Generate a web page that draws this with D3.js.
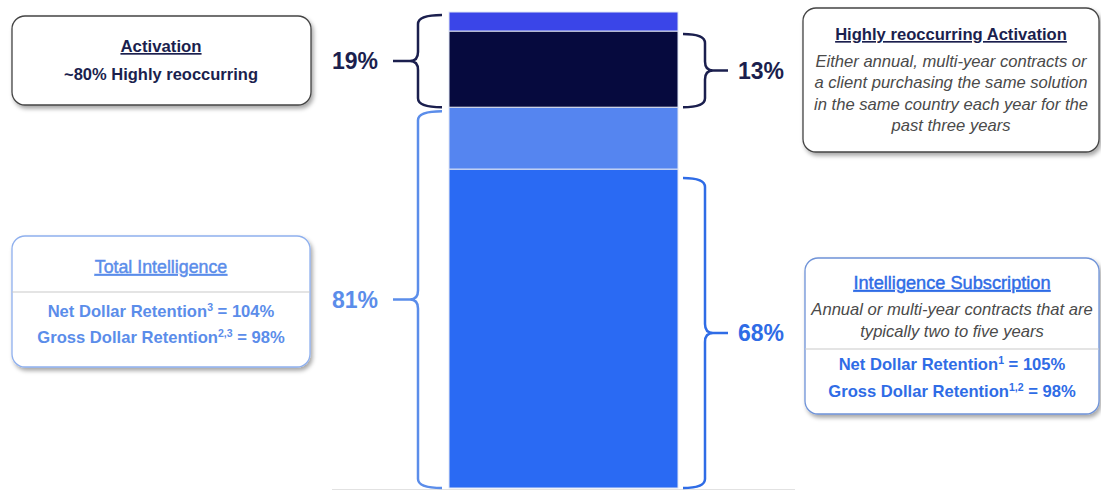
<!DOCTYPE html>
<html>
<head>
<meta charset="utf-8">
<script src="https://cdn.jsdelivr.net/npm/d3@7"></script>
<style>
  body { margin: 0; background: #fff; }
  svg { display: block; font-family: "Liberation Sans", Arial, sans-serif; }
</style>
</head>
<body>
<svg width="1101" height="492"></svg>
<script>
// stacked bar, bottom to top
const segments = ['Intelligence Subscription', 'Other Intelligence', 'Highly reoccurring Activation', 'Other Activation'];
const segmentValues = [67, 13, 16, 4];

// brace labels: which segments each brace spans
const braceLabels = ['19%', '81%', '13%', '68%'];
const braceFrom = [2, 0, 2, 0];
const braceTo = [3, 1, 2, 0];

const segColors = ['#2a6af3', '#5585f0', '#060a3e', '#3a45e8'];
const navy = '#1b1f4e';
const lightBlue = '#5b8dea';
const brightBlue = '#2f6ce6';

const svg = d3.select('svg');

const defs = svg.append('defs');
const f = defs.append('filter').attr('id', 'shadow')
    .attr('x', '-10%').attr('y', '-10%').attr('width', '130%').attr('height', '140%');
f.append('feDropShadow').attr('dx', 2).attr('dy', 3).attr('stdDeviation', 2)
    .attr('flood-color', '#000').attr('flood-opacity', 0.35);

const y = d3.scaleLinear().domain([0, 100]).range([488, 12]);
const x = d3.scaleBand().domain(['mix']).range([449, 678]).padding(0);

// stack the values
let acc = 0;
const stacked = segmentValues.map((v, i) => {
    const d = { name: segments[i], y0: acc, y1: acc + v, i: i };
    acc += v;
    return d;
});

// baseline
svg.append('line')
    .attr('x1', 332).attr('x2', 795)
    .attr('y1', y(0) + 1.5).attr('y2', y(0) + 1.5)
    .attr('stroke', '#e2e2e2').attr('stroke-width', 1);

svg.append('g').selectAll('rect')
    .data(stacked)
    .enter()
    .append('rect')
    .attr('x', x('mix'))
    .attr('width', x.bandwidth())
    .attr('y', d => y(d.y1))
    .attr('height', d => y(d.y0) - y(d.y1))
    .attr('fill', d => segColors[d.i])
    .attr('stroke', '#dfe6f5')
    .attr('stroke-width', 1);

// curly brace path, tip goes toward `dir` (-1 left, 1 right)
function brace(xEnd, xStem, xTip, y0, y1, dir) {
    const ym = (y0 + y1) / 2;
    const r = 9;
    const p = d3.path();
    p.moveTo(xEnd, y0);
    p.quadraticCurveTo(xStem, y0, xStem, y0 + r);
    p.lineTo(xStem, ym - r);
    p.quadraticCurveTo(xStem, ym, xStem + dir * 8, ym);
    p.lineTo(xTip, ym);
    p.moveTo(xStem + dir * 8, ym);
    p.quadraticCurveTo(xStem, ym, xStem, ym + r);
    p.lineTo(xStem, y1 - r);
    p.quadraticCurveTo(xStem, y1, xEnd, y1);
    return p.toString();
}

const braceSide = [-1, -1, 1, 1];
const braceInset = [3, 4, 3, 9];
const braceColor = [navy, lightBlue, navy, brightBlue];

braceLabels.forEach((lab, k) => {
    const top = y(stacked[braceTo[k]].y1) + braceInset[k];
    const bot = y(stacked[braceFrom[k]].y0);
    const side = braceSide[k];
    let xEnd, xStem, xTip, tx;
    if (side < 0) {
        xEnd = 442; xStem = 418; xTip = 393; tx = 332;
    } else {
        xEnd = 683; xStem = 705; xTip = 728; tx = 738;
    }
    svg.append('path')
        .attr('d', brace(xEnd, xStem, xTip, top, bot, side))
        .attr('fill', 'none')
        .attr('stroke', braceColor[k])
        .attr('stroke-width', 2.5);
    svg.append('text')
        .attr('x', tx).attr('y', (top + bot) / 2 + 8)
        .attr('font-size', 23).attr('font-weight', 'bold')
        .attr('fill', braceColor[k])
        .text(lab);
});

// annotation boxes
function box(x0, y0, w, h, stroke) {
    svg.append('rect')
        .attr('x', x0).attr('y', y0).attr('width', w).attr('height', h)
        .attr('rx', 13).attr('ry', 13)
        .attr('fill', '#fff').attr('stroke', stroke).attr('stroke-width', 1.3)
        .attr('filter', 'url(#shadow)');
}
function line(cx, yy, str, opts) {
    const t = svg.append('text')
        .attr('x', cx).attr('y', yy)
        .attr('text-anchor', 'middle')
        .attr('font-size', opts.size || 15)
        .attr('font-weight', opts.bold ? 'bold' : 'normal')
        .attr('font-style', opts.italic ? 'italic' : 'normal')
        .attr('text-decoration', opts.underline ? 'underline' : 'none')
        .attr('fill', opts.color);
    if (opts.medium) {
        t.attr('stroke', opts.color).attr('stroke-width', 0.45);
    }
    if (Array.isArray(str)) {
        // [before, superscript, after]
        t.append('tspan').text(str[0]);
        t.append('tspan').attr('font-size', 10.5).attr('dy', -6.5).text(str[1]);
        t.append('tspan').attr('dy', 6.5).text(str[2]);
    } else {
        t.text(str);
    }
    return t;
}

// Activation
box(12, 16, 299, 89, '#444');
line(161, 52, 'Activation', { bold: true, underline: true, color: navy, size: 16.8 });
line(161, 80, '~80% Highly reoccurring', { bold: true, color: navy, size: 16.5 });

// Highly reoccurring Activation
box(803, 8, 296, 144, '#444');
line(951, 40, 'Highly reoccurring Activation', { bold: true, underline: true, color: navy, size: 16.6 });
const grayBody = ['Either annual, multi-year contracts or', 'a client purchasing the same solution',
    'in the same country each year for the', 'past three years'];
grayBody.forEach((s, i) => line(951, 67 + i * 21.3, s, { italic: true, color: '#4a4a4a', size: 16.6 }));

// Total Intelligence
box(12, 236, 298, 131, '#8fb0ee');
line(161, 273, 'Total Intelligence', { underline: true, medium: true, color: lightBlue, size: 17.8 });
svg.append('line').attr('x1', 12).attr('x2', 310).attr('y1', 292).attr('y2', 292)
    .attr('stroke', '#c9c9c9').attr('stroke-width', 1);
line(161, 317, ['Net Dollar Retention', '3', ' = 104%'], { bold: true, color: lightBlue, size: 16.6 });
line(161, 343, ['Gross Dollar Retention', '2,3', ' = 98%'], { bold: true, color: lightBlue, size: 16.6 });

// Intelligence Subscription
box(805, 258, 294, 156, '#6f93d8');
line(952, 289, 'Intelligence Subscription', { underline: true, medium: true, color: brightBlue, size: 18.2 });
line(952, 315, 'Annual or multi-year contracts that are', { italic: true, color: '#4a4a4a', size: 16.6 });
line(952, 337, 'typically two to five years', { italic: true, color: '#4a4a4a', size: 16.6 });
svg.append('line').attr('x1', 805).attr('x2', 1099).attr('y1', 349).attr('y2', 349)
    .attr('stroke', '#c9c9c9').attr('stroke-width', 1);
line(952, 370, ['Net Dollar Retention', '1', ' = 105%'], { bold: true, color: brightBlue, size: 16.6 });
line(952, 397, ['Gross Dollar Retention', '1,2', ' = 98%'], { bold: true, color: brightBlue, size: 16.6 });
</script>
</body>
</html>
